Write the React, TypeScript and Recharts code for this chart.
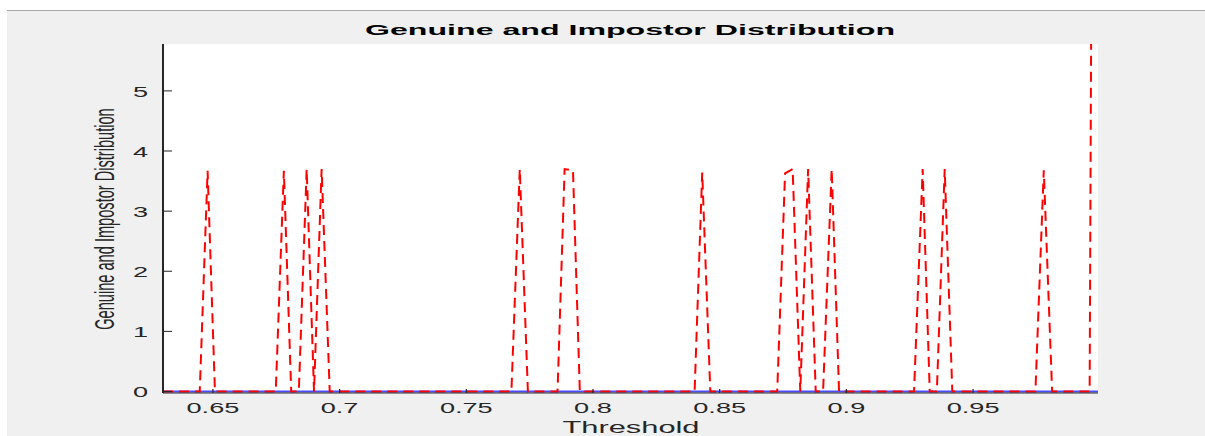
import React from "react";
import { LineChart, Line, XAxis, YAxis, CartesianGrid } from "recharts";

// Genuine distribution (red dashed) – threshold values and density values
const genuineThreshold = [
  0.6303, 0.6448, 0.6479, 0.6508, 0.6748, 0.678, 0.6809, 0.6839, 0.687, 0.6899,
  0.6929, 0.6961, 0.7678, 0.7711, 0.7743, 0.786, 0.7888, 0.7921, 0.7948, 0.8401,
  0.8431, 0.8463, 0.8727, 0.8758, 0.8788, 0.8818, 0.8849, 0.8879, 0.8908, 0.8942,
  0.8971, 0.9267, 0.9301, 0.9329, 0.9357, 0.9388, 0.9418, 0.9746, 0.9779, 0.9812,
  0.996, 0.999,
];
const genuineValue = [
  0, 0, 3.67, 0, 0, 3.67, 0, 0, 3.7, 0,
  3.7, 0, 0, 3.7, 0, 0, 3.7, 3.68, 0, 0,
  3.64, 0, 0, 3.63, 3.7, 0, 3.7, 0, 0, 3.7,
  0, 0, 3.7, 0, 0, 3.7, 0, 0, 3.68, 0,
  0, 30,
];

// Impostor distribution (blue solid) – zero over the visible range
const impostorThreshold = [0.6303, 0.9993];
const impostorValue = [0, 0];

const xTicks = [0.65, 0.7, 0.75, 0.8, 0.85, 0.9, 0.95];
const xTickLabels = ["0.65", "0.7", "0.75", "0.8", "0.85", "0.9", "0.95"];
const yTicks = [0, 1, 2, 3, 4, 5];
const yTickLabels = ["0", "1", "2", "3", "4", "5"];

const titleText = "Genuine and Impostor Distribution";
const xLabelText = "Threshold";
const yLabelText = "Genuine and Impostor Distribution";

const genuineData = genuineThreshold.map((x, i) => ({ x, y: genuineValue[i] }));
const impostorData = impostorThreshold.map((x, i) => ({ x, y: impostorValue[i] }));

const FONT = "'Liberation Sans', Arial, Helvetica, sans-serif";
const AXIS = "#262626";
const SX = 1.94;
const Y_DOMAIN: [number, number] = [-0.025, 5.78];

const XTickBottom = (props: any) => {
  const { x, y, payload } = props;
  const idx = xTicks.indexOf(payload.value);
  const label = idx >= 0 ? xTickLabels[idx] : String(payload.value);
  return (
    <g>
      <line x1={x} x2={x} y1={y} y2={y - 4} stroke={AXIS} strokeWidth={1.2} />
      <text
        transform={`translate(${x},${y + 20}) scale(${SX},1)`}
        textAnchor="middle"
        fontSize={14}
        fontFamily={FONT}
        fill={AXIS}
      >
        {label}
      </text>
    </g>
  );
};

const XTickTop = (props: any) => {
  const { x, y } = props;
  return <line x1={x} x2={x} y1={y} y2={y + 4} stroke={AXIS} strokeWidth={1.2} />;
};

const YTickLeft = (props: any) => {
  const { x, y, payload } = props;
  const idx = yTicks.indexOf(payload.value);
  const label = idx >= 0 ? yTickLabels[idx] : String(payload.value);
  return (
    <g>
      <line x1={x} x2={x + 9} y1={y} y2={y} stroke={AXIS} strokeWidth={1} />
      <text
        transform={`translate(${x - 15},${y + 6}) scale(${SX},1)`}
        textAnchor="end"
        fontSize={14}
        fontFamily={FONT}
        fill={AXIS}
      >
        {label}
      </text>
    </g>
  );
};

const YTickRight = (props: any) => {
  const { x, y } = props;
  return <line x1={x} x2={x - 8} y1={y} y2={y} stroke={AXIS} strokeWidth={1} />;
};

const XLabel = () => (
  <text
    x={631}
    y={433}
    textAnchor="middle"
    fontSize={16}
    fontFamily={FONT}
    fill={AXIS}
    textLength={137}
    lengthAdjust="spacingAndGlyphs"
  >
    {xLabelText}
  </text>
);

const YLabel = () => (
  <text
    transform={`translate(114,219) scale(1.9,1) rotate(-90)`}
    textAnchor="middle"
    fontSize={14.6}
    fontFamily={FONT}
    fill={AXIS}
  >
    {yLabelText}
  </text>
);

export default function App() {
  return (
    <div
      style={{
        position: "absolute",
        left: 0,
        top: 0,
        width: 1205,
        height: 436,
        background: "#ffffff",
        overflow: "hidden",
      }}
    >
      <div
        style={{
          position: "absolute",
          left: 7,
          top: 10,
          width: 1198,
          height: 426,
          background: "#f0f0f0",
          borderTop: "1px solid #a8a8a8",
          boxSizing: "border-box",
        }}
      />
      <div style={{ position: "absolute", left: 0, top: 0 }}>
        <LineChart
          width={1205}
          height={436}
          margin={{ top: 44, right: 107, bottom: 0, left: 0 }}
        >
          <CartesianGrid fill="#ffffff" horizontal={false} vertical={false} />
          <XAxis
            xAxisId="bottom"
            dataKey="x"
            type="number"
            orientation="bottom"
            domain={[0.6303, 0.9993]}
            allowDataOverflow
            ticks={xTicks}
            height={43}
            tickSize={0}
            tickMargin={0}
            tickLine={false}
            tick={<XTickBottom />}
            axisLine={{ stroke: AXIS, strokeWidth: 1.2 }}
            label={<XLabel />}
            interval={0}
          />
          <XAxis
            xAxisId="top"
            dataKey="x"
            type="number"
            orientation="top"
            domain={[0.6303, 0.9993]}
            allowDataOverflow
            ticks={xTicks}
            height={0}
            tickSize={0}
            tickMargin={0}
            tickLine={false}
            tick={<XTickTop />}
            axisLine={{ stroke: AXIS, strokeWidth: 1.2 }}
            interval={0}
          />
          <YAxis
            yAxisId="left"
            type="number"
            domain={Y_DOMAIN}
            allowDataOverflow
            ticks={yTicks}
            width={163}
            tickSize={0}
            tickMargin={0}
            tickLine={false}
            tick={<YTickLeft />}
            axisLine={{ stroke: AXIS, strokeWidth: 2 }}
            label={<YLabel />}
            interval={0}
          />
          <YAxis
            yAxisId="right"
            orientation="right"
            type="number"
            domain={Y_DOMAIN}
            allowDataOverflow
            ticks={yTicks}
            width={0}
            tickSize={0}
            tickMargin={0}
            tickLine={false}
            tick={<YTickRight />}
            axisLine={{ stroke: AXIS, strokeWidth: 2 }}
            interval={0}
          />
          <Line
            xAxisId="bottom"
            yAxisId="left"
            data={impostorData}
            dataKey="y"
            type="linear"
            stroke="#4b4bff"
            strokeWidth={2}
            dot={false}
            activeDot={false}
            isAnimationActive={false}
          />
          <Line
            xAxisId="bottom"
            yAxisId="left"
            data={genuineData}
            dataKey="y"
            type="linear"
            stroke="#ff0000"
            strokeWidth={2}
            strokeDasharray="10 6"
            dot={false}
            activeDot={false}
            isAnimationActive={false}
          />
        </LineChart>
      </div>
      <svg
        width={1205}
        height={436}
        style={{ position: "absolute", left: 0, top: 0, pointerEvents: "none" }}
      >
        <text
          x={630}
          y={35}
          textAnchor="middle"
          fontSize={14.5}
          fontWeight="bold"
          fontFamily={FONT}
          fill="#000000"
          textLength={530}
          lengthAdjust="spacingAndGlyphs"
        >
          {titleText}
        </text>
      </svg>
    </div>
  );
}
